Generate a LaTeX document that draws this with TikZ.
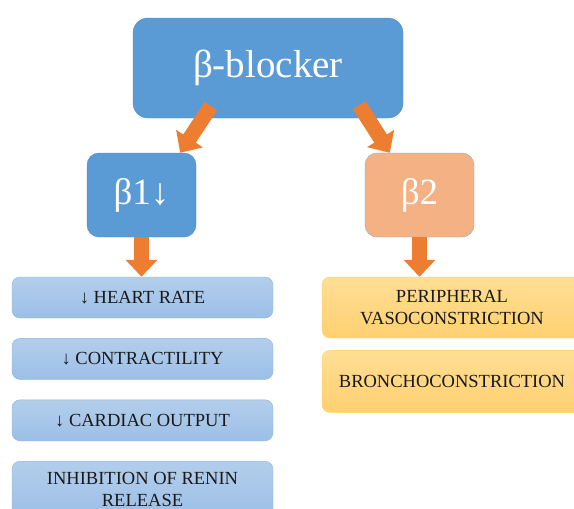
\documentclass[tikz,border=0pt]{standalone}
\usepackage{fontspec}
\setmainfont{Liberation Serif}
\newfontfamily\timesfont{Liberation Serif}
\usepackage{tikz}
\usetikzlibrary{arrows.meta,positioning}
\definecolor{mainblue}{HTML}{5B9BD5}
\definecolor{mainedge}{HTML}{4F8BCB}
\definecolor{peach}{HTML}{F4B183}
\definecolor{peachedge}{HTML}{8FA5C0}
\definecolor{arrorange}{HTML}{ED7D31}
\definecolor{lbtop}{HTML}{B3CEEC}
\definecolor{lbbot}{HTML}{9CBFE7}
\definecolor{lbedge}{HTML}{8DB4E2}
\definecolor{gdtop}{HTML}{FFDE95}
\definecolor{gdbot}{HTML}{FFD070}
\definecolor{gdedge}{HTML}{FFD44F}
\tikzset{
  topbox/.style={rectangle, draw=mainedge, fill=mainblue, rounded corners=15pt,
              minimum width=270pt, minimum height=100pt, inner sep=0pt,
              text=white, font=\timesfont\fontsize{39}{40}\selectfont},
  recbox/.style={rectangle, draw=mainedge, fill=mainblue, rounded corners=12pt,
              minimum width=109pt, minimum height=84pt, inner sep=0pt,
              text=white, font=\timesfont\fontsize{37}{40}\selectfont},
  effbox/.style={rectangle, draw=lbedge, top color=lbtop, bottom color=lbbot,
              rounded corners=8pt, minimum width=261pt, minimum height=41pt,
              inner sep=0pt, align=center, text=black!90,
              font=\timesfont\fontsize{18.5}{22}\selectfont},
  goldbox/.style={rectangle, draw=gdedge, top color=gdtop, bottom color=gdbot,
              rounded corners=8pt, minimum width=260pt, minimum height=61pt,
              inner sep=0pt, align=center, text=black!90,
              font=\timesfont\fontsize{18.5}{22}\selectfont},
  blk/.style={draw=arrorange, line width=15pt,
              -{Triangle[length=17pt, width=31pt, fill=arrorange]}}
}
\begin{document}
\begin{tikzpicture}[x=1pt, y=-1pt, node distance=20pt]
  \clip (0,0) rectangle (574,509);
  \node[topbox] (blk0) at (268,68) {β-blocker};
  \node[recbox] (b1) at (141.5,195) {β1↓};
  \node[recbox, fill=peach, draw=peachedge] (b2) at (419.5,195) {β2};
  \node[effbox] (hr) at (142.5,297.5) {↓ HEART RATE};
  \node[effbox, below=of hr] (ct) {↓ CONTRACTILITY};
  \node[effbox, below=of ct] (co) {↓ CARDIAC OUTPUT};
  \node[effbox, below=of co, minimum height=56pt] (rn) {INHIBITION OF RENIN\\RELEASE};
  \node[goldbox] (pv) at (452,307.5) {PERIPHERAL\\VASOCONSTRICTION};
  \node[goldbox, below=12pt of pv, minimum height=62pt] (bc) {BRONCHOCONSTRICTION};
  % block arrows
  \draw[blk] ([xshift=78pt,yshift=12pt]blk0.south west) -- ([xshift=-16pt]b1.north east);
  \draw[blk] ([xshift=-44pt,yshift=13pt]blk0.south east) -- ([xshift=25pt]b2.north west);
  \draw[blk] (b1.south) -- (b1.south |- hr.north);
  \draw[blk] (b2.south) -- (b2.south |- pv.north);
\end{tikzpicture}
\end{document}
